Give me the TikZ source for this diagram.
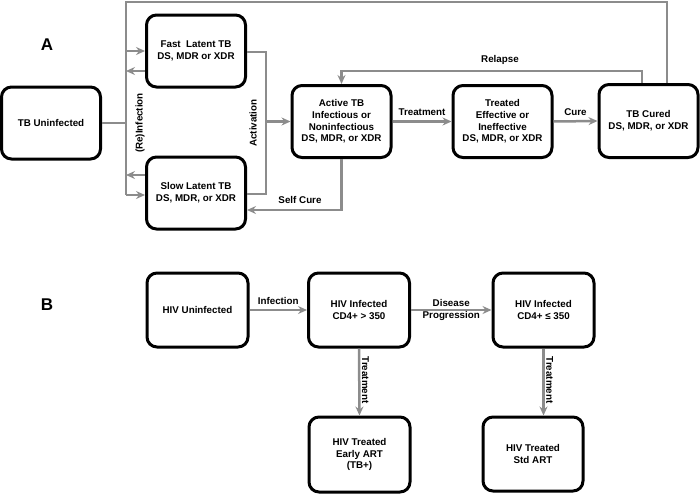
\documentclass[tikz,border=0pt]{standalone}
\usepackage{fontspec}
\setmainfont{Liberation Sans}
\usetikzlibrary{arrows.meta,positioning}
\definecolor{flow}{HTML}{8C8C8C}
\tikzset{
  >={Stealth[length=9pt,width=8pt,inset=3pt]},
  every node/.style={font=\fontsize{9.8}{11.7}\selectfont\bfseries},
  box/.style={draw=black,line width=3pt,rounded corners=10pt,fill=white,minimum width=99pt,minimum height=72pt,align=center,inner sep=2pt},
  link/.style={draw=flow,line width=2.5pt},
  arrow/.style={link,->},
  lbl/.style={align=center,inner sep=1.5pt},
  panel/.style={font=\fontsize{17}{20}\selectfont\bfseries},
}

\begin{document}
\begin{tikzpicture}[x=1pt,y=-1pt]
  \useasboundingbox (0,0) rectangle (700,493);

  % panel A: TB states
  \node[panel] (pa) at (47,45) {A};
  \node[box] (unin) at (51,123) {TB Uninfected};
  \node[box] (fast) at (196,51) {Fast\ \ Latent TB\\DS, MDR or XDR};
  \node[box] (slow) at (196,193) {Slow Latent TB\\DS, MDR, or XDR};
  \node[box] (active) at (341.5,121.5) {Active TB\\Infectious or\\Noninfectious\\DS, MDR, or XDR};
  \node[box] (treated) at (502.5,121.5) {Treated\\Effective or\\Ineffective\\DS, MDR, or XDR};
  \node[box,minimum height=73pt] (cured) at (648.5,121) {TB Cured\\DS, MDR, or XDR};

  \coordinate (rein) at (126,2);
  \coordinate (reinbot) at (126,195);
  \coordinate (fastout) at (126,71);
  \coordinate (slowout) at (126,175);
  \coordinate (acttop) at (266,52);
  \coordinate (actbot) at (266,194);
  \coordinate (sc) at (342,210);
  \coordinate (rel) at (642,71);

  % (re)infection loop
  \draw[link] ([xshift=18.5]cured.north) |- (rein) -- (reinbot);
  \draw[link] (unin.east) -- (unin.east -| rein);
  \draw[arrow] (rein |- fast.west) -- (fast.west);
  \draw[arrow] (reinbot) -- (reinbot -| slow.west);
  \draw[arrow] (fast.west |- fastout) -- (fastout);
  \draw[arrow] (slow.west |- slowout) -- (slowout);
  \node[lbl,rotate=90] (lrein) at (140,123) {(Re)Infection};

  % activation
  \draw[link] (fast.east |- acttop) -- (acttop) -- (actbot) -- (actbot -| slow.east);
  \draw[arrow] (active.west -| acttop) -- (active.west);
  \node[lbl,rotate=90] (lact) at (253,123) {Activation};

  \draw[arrow] (active.south) |- (sc -| slow.east);
  \node[lbl] (lself) at (300,200) {Self Cure};

  \draw[arrow] (active.east) -- node[lbl,above=3pt] (ltreat) {Treatment} (treated.west);
  \draw[arrow] (treated.east) -- node[lbl,above=3pt] (lcure) {Cure} (cured.west);

  \draw[arrow] (cured.north -| rel) -- (rel) -| (active.north);
  \node[lbl] (lrel) at (500,60) {Relapse};

  % panel B: HIV states
  \node[panel] (pb) at (47,305) {B};
  \node[box,minimum width=101pt,minimum height=74pt] (hunin) at (197.5,310) {HIV Uninfected};
  \node[box,minimum width=101pt,minimum height=74pt] (hhigh) at (359,310) {HIV Infected\\CD4+ > 350};
  \node[box,minimum width=101pt,minimum height=74pt] (hlow) at (543.5,310) {HIV Infected\\CD4+ ≤ 350};
  \node[box,minimum width=101pt,minimum height=75pt] (hearly) at (359.5,454.5) {HIV Treated\\Early ART\\(TB+)};
  \node[box,minimum width=100pt,minimum height=74pt] (hstd) at (533,454) {HIV Treated\\Std ART};

  \draw[arrow] (hunin.east) -- node[lbl,above=3pt] (linf) {Infection} (hhigh.west);
  \draw[arrow] (hhigh.east) -- node[lbl] (lprog) {Disease\\Progression} (hlow.west);
  \draw[arrow] (hhigh.south) -- node[lbl,rotate=-90,above=2pt] (ltr1) {Treatment} (hearly.north);
  \draw[arrow] (hlow.south) -- node[lbl,rotate=-90,above=2pt] (ltr2) {Treatment} (hlow.south |- hstd.north);
\end{tikzpicture}
\end{document}
